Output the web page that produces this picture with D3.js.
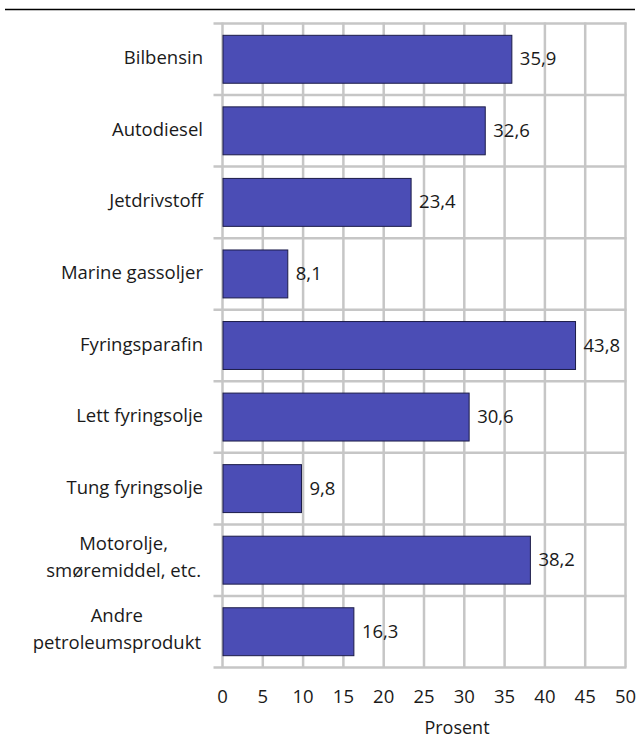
<!DOCTYPE html>
<html>
<head>
<meta charset="utf-8">
<script src="https://cdn.jsdelivr.net/npm/d3@7"></script>
<style>
  body { margin: 0; background: #fff; }
  text { font-family: "Open Sans", sans-serif; fill: #1a1a1a; }
</style>
</head>
<body>
<div id="graph"></div>
<script>
var kategorier = [
    ["Bilbensin"],
    ["Autodiesel"],
    ["Jetdrivstoff"],
    ["Marine gassoljer"],
    ["Fyringsparafin"],
    ["Lett fyringsolje"],
    ["Tung fyringsolje"],
    ["Motorolje,", "smøremiddel, etc."],
    ["Andre", "petroleumsprodukt"]
];
var verdier = [35.9, 32.6, 23.4, 8.1, 43.8, 30.6, 9.8, 38.2, 16.3];
var ticks = [0, 5, 10, 15, 20, 25, 30, 35, 40, 45, 50];

function dessin() {
    var W = 640, H = 740,
        gauche = 222.5, droite = 625.5,
        haut = 23.5, bas = 667.5,
        couleur_barre = "#4b4db5",
        couleur_grille = "#c6c6c6",

        svg = d3.select("#graph")
            .append("svg")
                .attr("width", W)
                .attr("height", H),

        x = d3.scaleLinear()
            .domain([0, 50])
            .range([gauche, droite]),

        y = d3.scaleBand()
            .domain(d3.range(kategorier.length))
            .range([haut, bas])
            .padding(0);

    var pas = y.step();

    // ligne noire en haut
    svg.append("line")
        .attr("x1", 5).attr("x2", 635)
        .attr("y1", 9.5).attr("y2", 9.5)
        .style("stroke", "#000")
        .style("stroke-width", 1.5);

    // grille verticale
    svg.selectAll(".vgrille")
        .data(ticks)
        .enter()
        .append("line")
        .attr("x1", function (d) { return x(d); })
        .attr("x2", function (d) { return x(d); })
        .attr("y1", haut - 1)
        .attr("y2", bas)
        .style("stroke", couleur_grille)
        .style("stroke-width", 2.5);

    // grille horizontale
    svg.selectAll(".hgrille")
        .data(d3.range(kategorier.length + 1))
        .enter()
        .append("line")
        .attr("x1", gauche - 9)
        .attr("x2", droite + 1)
        .attr("y1", function (d) { return haut + d * pas; })
        .attr("y2", function (d) { return haut + d * pas; })
        .style("stroke", couleur_grille)
        .style("stroke-width", 2.5);

    // barres
    svg.selectAll(".barre")
        .data(verdier)
        .enter()
        .append("rect")
        .attr("x", x(0) + 0.5)
        .attr("y", function (d, i) { return y(i) + pas * 0.165; })
        .attr("width", function (d) { return x(d) - x(0) - 0.5; })
        .attr("height", pas * 0.67)
        .style("fill", couleur_barre)
        .style("stroke", "#1c1c48")
        .style("stroke-width", 1);

    // valeurs
    svg.selectAll(".valeur")
        .data(verdier)
        .enter()
        .append("text")
        .attr("x", function (d) { return x(d) + 8; })
        .attr("y", function (d, i) { return y(i) + pas / 2 + 6; })
        .style("font-size", "18.5px")
        .text(function (d) { return d.toFixed(1).replace(".", ","); });

    // libellés des catégories
    kategorier.forEach(function (lignes, i) {
        var c = y(i) + pas / 2;
        if (lignes.length === 1) {
            svg.append("text")
                .attr("x", 203)
                .attr("y", c + 5)
                .style("font-size", "18.5px")
                .style("text-anchor", "end")
                .text(lignes[0]);
        } else {
            var g = svg.append("g");
            var t = g.selectAll("text")
                .data(lignes)
                .enter()
                .append("text")
                .attr("y", function (d, j) { return c - 10 + j * 27; })
                .style("font-size", "18.5px")
                .style("text-anchor", "middle")
                .text(function (d) { return d; });
            var larg = 0;
            t.each(function () { larg = Math.max(larg, this.getComputedTextLength()); });
            t.attr("x", 201 - larg / 2);
        }
    });

    // axe x
    svg.selectAll(".tick")
        .data(ticks)
        .enter()
        .append("text")
        .attr("x", function (d) { return x(d); })
        .attr("y", 703)
        .style("font-size", "18.5px")
        .style("text-anchor", "middle")
        .text(function (d) { return d; });

    svg.append("text")
        .attr("x", 457)
        .attr("y", 734)
        .style("font-size", "18px")
        .style("text-anchor", "middle")
        .text("Prosent");
}

dessin();
</script>
</body>
</html>
